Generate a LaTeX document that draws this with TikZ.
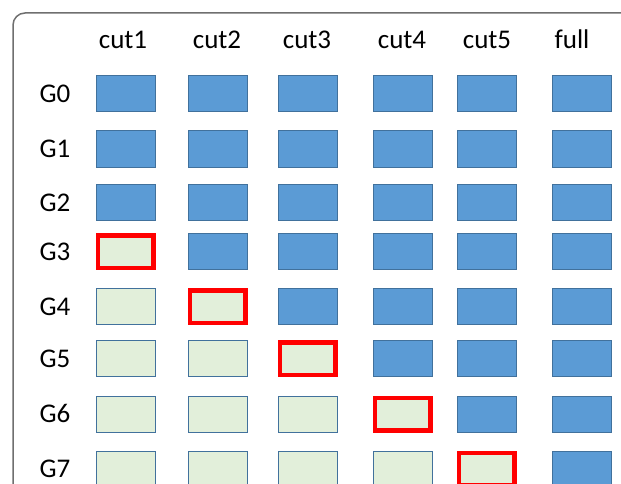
\documentclass[tikz,border=0pt]{standalone}
\usepackage{fontspec}
\setmainfont{Carlito}
\definecolor{fillblue}{HTML}{5B9BD5}
\definecolor{edgeblue}{HTML}{41719C}
\definecolor{fillgreen}{HTML}{E2EFDA}
\definecolor{framegray}{HTML}{6F6F6F}
\begin{document}
\begin{tikzpicture}[x=1pt,y=-1pt,
  cell/.style={draw=edgeblue, line width=1pt, minimum width=59pt, minimum height=36pt, inner sep=0pt},
  done/.style={cell, fill=fillblue},
  todo/.style={cell, fill=fillgreen},
  cutbox/.style={cell, fill=fillgreen, draw=red, line width=4.5pt, minimum width=55.5pt, minimum height=32.5pt},
  hdr/.style={font=\fontsize{27}{30}\selectfont, anchor=base},
  rowlab/.style={font=\fontsize{27}{30}\selectfont, anchor=base west}
]
\useasboundingbox (0,0) rectangle (621,484);
\clip (0,0) rectangle (621,484);
\draw[framegray, line width=1.5pt, rounded corners=12pt] (660,13) -- (13,13) -- (13,520);
% headers
\node[hdr] (h1) at (123,49) {cut1};
\node[hdr] (h2) at (217,49) {cut2};
\node[hdr] (h3) at (307,49) {cut3};
\node[hdr] (h4) at (402,49) {cut4};
\node[hdr] (h5) at (487,49) {cut5};
\node[hdr] (h6) at (572,49) {full};
% rows
\foreach \r/\y in {0/94,1/149,2/202.5,3/251.5,4/306.5,5/358.5,6/414,7/469}{
  \node[rowlab] (g\r) at (36,\y+8.5) {G\r};
  \foreach \c/\x in {1/125.5,2/217.5,3/307.5,4/402.5,5/486.5,6/581.5}{
    \pgfmathtruncatemacro{\k}{\c+2}
    \ifnum\r<\k
      \node[done] (b\r-\c) at (\x,\y) {};
    \else
      \ifnum\r=\k
        \node[cutbox] (b\r-\c) at (\x,\y) {};
      \else
        \node[todo] (b\r-\c) at (\x,\y) {};
      \fi
    \fi
  }
}
\end{tikzpicture}
\end{document}
